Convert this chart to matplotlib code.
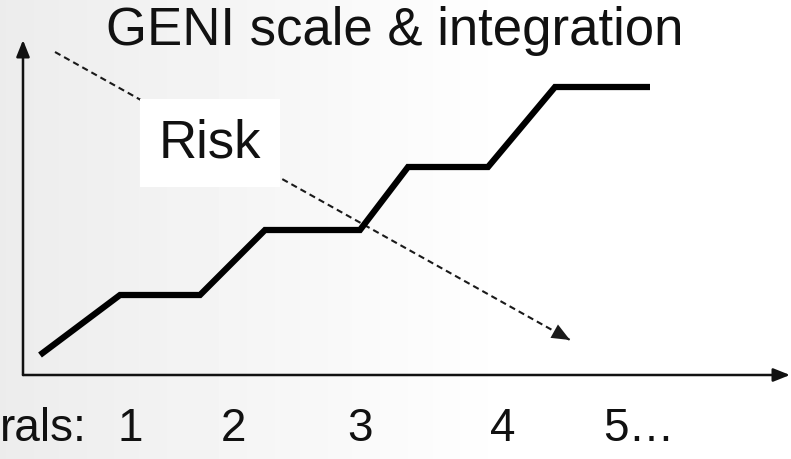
import numpy as np
import matplotlib.pyplot as plt

plt.rcParams['font.family'] = ['Liberation Sans', 'DejaVu Sans']

# Data (arbitrary units along time / scale axes)
stair_x = [17, 97, 177, 242, 337, 385, 465, 532, 627]
stair_y = [20, 80, 80, 145, 145, 208, 208, 288, 288]

risk_start = (32, 323)
risk_end = (547, 35)

spiral_pos = [107, 210, 337, 480, 616]
spiral_labels = ['1', '2', '3', '4', '5…']

x_max = 767
y_max = 335

fig = plt.figure(figsize=(7.91, 4.59), dpi=100)

# Slide background: light grey on the left fading to white
bg = fig.add_axes([0, 0, 1, 1], zorder=-10)
grad = np.linspace(0, 1, 256)
shade = 0.925 + 0.075 * np.clip(grad / 0.65, 0, 1)
bg.imshow(np.tile(shade, (10, 1)), cmap='gray', vmin=0, vmax=1,
          aspect='auto', extent=[0, 1, 0, 1])
bg.axis('off')

ax = fig.add_axes([23 / 791, 84 / 459, 767 / 791, 335 / 459])
ax.set_xlim(0, x_max)
ax.set_ylim(0, y_max)
ax.patch.set_alpha(0)
for s in ax.spines.values():
    s.set_visible(False)

# Axes drawn as arrows
head = '-|>,head_length=1.0,head_width=0.4'
ax.annotate('', xy=(x_max, 0), xytext=(0, 0),
            arrowprops=dict(arrowstyle=head, color='#111111', lw=1.8,
                            shrinkA=0, shrinkB=0),
            annotation_clip=False)
ax.annotate('', xy=(0, y_max), xytext=(0, 0),
            arrowprops=dict(arrowstyle=head, color='#111111', lw=1.8,
                            shrinkA=0, shrinkB=0),
            annotation_clip=False)

# Risk: dashed line going down, with a solid arrow head at its end
ax.plot([risk_start[0], risk_end[0]], [risk_start[1], risk_end[1]],
        color='#1a1a1a', lw=1.5, dashes=(3, 2), zorder=2)
ax.annotate('', xy=risk_end, xytext=risk_start,
            arrowprops=dict(arrowstyle='-|>,head_length=1.3,head_width=0.55',
                            color='#1a1a1a', lw=0.01, shrinkA=0, shrinkB=0),
            zorder=2)

ax.text(187, 232, 'Risk', fontsize=38, ha='center', va='center',
        color='#111111', zorder=3,
        bbox=dict(boxstyle='square,pad=0.36', fc='white', ec='none'))

# Scale & integration staircase
ax.plot(stair_x, stair_y, color='black', lw=4.5, solid_joinstyle='miter',
        solid_capstyle='butt', zorder=4)

label_pad = 23
label_size = 33
ax.set_xticks(spiral_pos, spiral_labels)
ax.set_yticks([])
ax.tick_params(axis='x', length=0, pad=label_pad, labelsize=label_size,
               labelcolor='#111111')
ax.annotate('rals:', xy=(-23, 0), xytext=(0, -label_pad),
            textcoords='offset points', fontsize=label_size,
            ha='left', va='top', color='#111111', annotation_clip=False)

fig.text(395 / 791, 1 - 31 / 459, 'GENI scale & integration', fontsize=38,
         ha='center', va='center', color='#111111')

fig.savefig('out.png', dpi=100)
